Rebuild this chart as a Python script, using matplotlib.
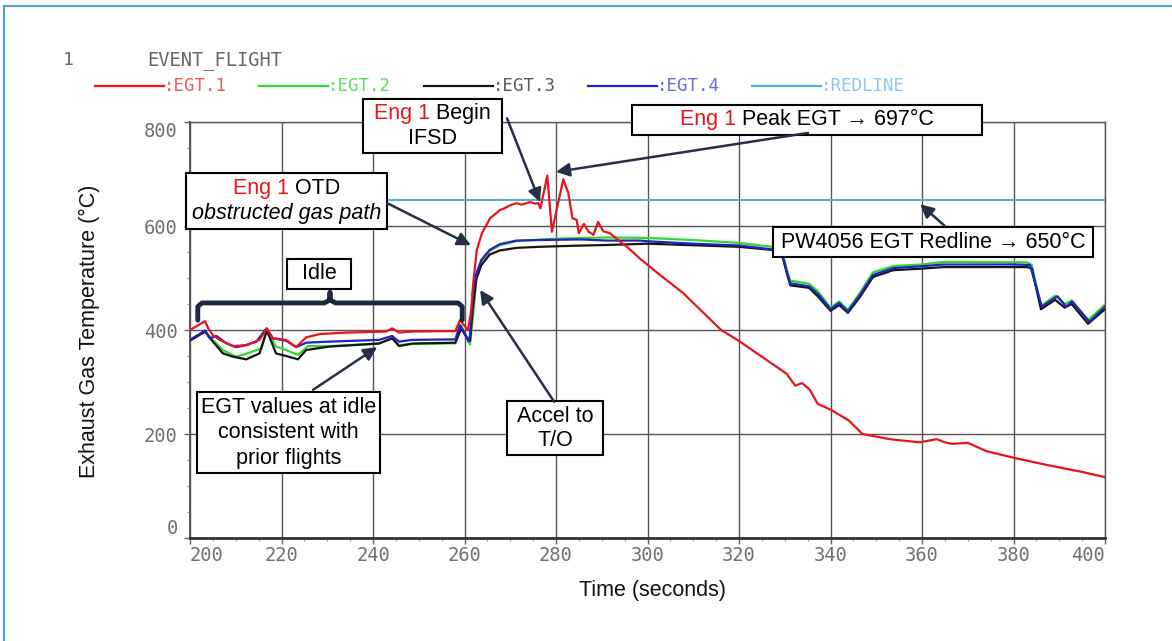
import matplotlib
matplotlib.use('Agg')
import matplotlib.pyplot as plt
from matplotlib.lines import Line2D
from matplotlib.ticker import MultipleLocator
from matplotlib.offsetbox import AnnotationBbox, TextArea, HPacker, VPacker, DrawingArea

plt.rcParams['font.family'] = ['Liberation Sans', 'DejaVu Sans']

# ---- data (time in s, EGT in deg C) ----
t_egt1 = [200, 203.3, 204, 205, 206.5, 209.4, 212.3, 215.2, 216.8, 218.1, 221, 223.2, 225.4, 228.3,
          234, 242.8, 244.2, 245.7, 248.6, 258, 259, 260, 260.8, 261.5, 261.9, 262.7, 263.8, 265.6,
          267.8, 268.5, 270, 271.4, 272.5, 274.3, 275.5, 276.1, 276.6, 278.1, 279.1, 281.6, 282.7,
          283.6, 284.5, 285.0, 286.1, 287.1, 288.2, 289.2, 290.3, 291.8, 293.3, 295.5, 298.4, 302.7,
          307.8, 312, 316.1, 319.8, 325.1, 330.4, 332.3, 333.8, 335.5, 337.2, 340.2, 344, 347, 353,
          359.4, 363.2, 365, 366.6, 370, 374.1, 380.2, 387, 394.5, 400]
egt1 = [400, 417, 403, 390, 381, 369, 371, 381, 403, 384, 381, 367, 386, 392,
        395, 397, 403, 395, 397, 398, 419, 408, 400, 440, 490, 554, 586, 615,
        631, 633, 640, 644, 641, 646, 643, 644, 634, 697, 589, 690, 663,
        615, 612, 586, 604, 589, 583, 608, 590, 586, 575, 560, 537, 506,
        471, 435, 400, 380, 348, 316, 293, 298, 285, 258, 246, 226, 200, 190,
        184, 190, 184, 181, 183, 167, 154, 141, 128, 117]

t_egt2 = [200, 203.3, 205, 207.2, 210.1, 213, 215.6, 216.8, 218.8, 221, 223.6, 225.8, 230.4, 241.3,
          244.2, 245.7, 248.6, 258, 259.3, 260.5, 261.2, 262, 262.6, 263.7, 265.5, 267.7, 271.4,
          276.5, 281, 291.1, 300, 310, 320, 327.2, 329.2, 330.5, 331.2, 335.3, 337.2, 340, 341.9,
          343.8, 346.4, 349.3, 353.7, 360, 364.7, 370, 383, 384, 386, 389.1, 391.2, 392.7, 396.3, 400]
egt2 = [382, 397, 381, 361.5, 348.7, 356.4, 364.7, 400, 368, 361.5, 352, 369, 369, 374,
        384, 371, 373, 374.4, 407.7, 385, 372, 440, 505, 532, 552, 563, 571,
        574, 576, 578, 577, 573, 567.5, 560, 558, 515, 495, 489, 475, 443, 455,
        439, 471, 511, 523, 526, 531, 531, 530, 525, 446, 466, 450, 457, 419, 449]

t_egt3 = [200, 203.3, 205, 207.2, 209.4, 212.3, 215.2, 216.8, 218.8, 221, 223.6, 225.4, 230.4, 241.3,
          244.2, 245.7, 248.6, 258, 259.3, 260.5, 261.2, 261.8, 262.6, 263.7, 265.5, 267.7, 271.4,
          276.5, 283.8, 291.1, 300, 310, 320, 327.2, 329.2, 330.5, 331.2, 335.3, 337.2, 340, 341.9,
          343.8, 346.4, 349.3, 353.7, 360, 364.7, 370, 383, 384, 386, 389.1, 391.2, 392.7, 396.3, 400]
egt3 = [379.5, 397, 377.6, 355, 348.7, 343.6, 355, 398.7, 355, 350, 343.6, 361.5, 368, 374,
        384, 369, 374, 375.6, 403, 385, 379, 440, 498, 525, 545, 553, 558,
        560, 562, 563.5, 566, 563, 560, 554, 552, 508, 486, 481, 465, 437, 448,
        433, 463, 502, 515, 518, 521, 521, 521, 518, 440, 458, 443, 450, 412, 440]

t_egt4 = [200, 203.3, 204.3, 205.8, 208, 210.1, 212.3, 214.5, 216.7, 218.1, 221, 223.2, 225.4, 230.4,
          241.3, 244.2, 245.7, 248.6, 258, 259, 260, 260.9, 261.2, 261.8, 262.6, 263.7, 265.5, 267.7,
          271.4, 276.5, 283.8, 286, 291.1, 298.4, 300, 310, 320, 327.2, 329.2, 330.5, 331.2, 335.3,
          337.2, 340, 341.9, 343.8, 346.4, 349.3, 353.7, 360, 364.7, 370, 380, 383.6, 386.2, 389.6,
          391.5, 392.8, 396.6, 400]
egt4 = [381, 399, 384, 388.5, 374, 367, 371, 377.5, 403, 384, 379.5, 367, 375.6, 377.6,
        381, 388.5, 377.6, 381, 382, 409.6, 395, 378, 390, 470, 509, 535, 554, 565,
        572, 573, 574, 574, 572, 572, 570.6, 566, 562.5, 555, 553, 510, 490, 484,
        470, 440, 452, 435.5, 467, 506, 519, 522.6, 526, 526, 526, 525, 445, 465,
        445, 455, 416, 445]

t_redline = [200, 400]
redline = [650, 650]

series_names = [':EGT.1', ':EGT.2', ':EGT.3', ':EGT.4', ':REDLINE']
line_colors = ['#e8141c', '#2fd82f', '#151515', '#2222c4', '#4aaed6']
label_colors = ['#ec5a5e', '#5ddc5d', '#5a5a5a', '#6a6ad8', '#8cc8ee']

x_ticks = [200, 220, 240, 260, 280, 300, 320, 340, 360, 380, 400]
y_ticks = [0, 200, 400, 600, 800]

W, H = 1172, 641
fig = plt.figure(figsize=(W / 100, H / 100), dpi=100)
ax = fig.add_axes([190 / W, (H - 538) / H, 915 / W, 416 / H])

# curves
ax.plot(t_redline, redline, color=line_colors[4], lw=1.4, zorder=3)
ax.plot(t_egt2, egt2, color=line_colors[1], lw=1.6, zorder=3)
ax.plot(t_egt3, egt3, color=line_colors[2], lw=1.6, zorder=3)
ax.plot(t_egt4, egt4, color=line_colors[3], lw=1.6, zorder=3)
ax.plot(t_egt1, egt1, color=line_colors[0], lw=1.6, zorder=4)

ax.set_xlim(200, 400)
ax.set_ylim(0, 800)
ax.set_xticks(x_ticks)
ax.set_yticks(y_ticks)
ax.xaxis.set_minor_locator(MultipleLocator(5))
ax.yaxis.set_minor_locator(MultipleLocator(50))
ax.grid(True, which='major', color='#555555', lw=1.0, zorder=1)
for s in ax.spines.values():
    s.set_color('#555555')
    s.set_linewidth(1.0)
ax.spines['bottom'].set_linewidth(2.0)
ax.spines['bottom'].set_color('#333333')
ax.spines['left'].set_linewidth(1.4)

ax.tick_params(which='major', direction='out', length=4, width=1, color='#666666',
               labelcolor='#707070', labelsize=13.5)
ax.tick_params(axis='x', which='major', pad=2)
ax.tick_params(axis='y', which='major', pad=5)
ax.tick_params(which='minor', direction='out', length=2.5, width=0.8, color='#999999')
for lab in ax.get_xticklabels() + ax.get_yticklabels():
    lab.set_fontfamily('DejaVu Sans Mono')
xt = ax.xaxis.get_major_ticks()
xt[0].label1.set_horizontalalignment('left')
xt[-1].label1.set_horizontalalignment('right')
yt = ax.yaxis.get_major_ticks()
yt[0].label1.set_verticalalignment('bottom')
yt[-1].label1.set_verticalalignment('top')

ax.set_xlabel('Time (seconds)', fontsize=15.5, color='#111111')
ax.set_ylabel('Exhaust Gas Temperature (°C)', fontsize=15.5, color='#111111')
ax.xaxis.set_label_coords(0.506, -0.101)
ax.yaxis.set_label_coords(-0.098, 0.4976)

# header + legend (plotting-software style)
mono = 'DejaVu Sans Mono'
fig.text(68 / W, 1 - 60 / H, '1', family=mono, fontsize=13, color='#666666', ha='center', va='center')
fig.text(147 / W, 1 - 60 / H, 'EVENT_FLIGHT', family=mono, fontsize=13.5, color='#666666',
         ha='left', va='center')
for i, (name, lc, tc) in enumerate(zip(series_names, line_colors, label_colors)):
    x0 = 95 + 164.3 * i
    fig.add_artist(Line2D([x0 / W, (x0 + 69) / W], [1 - 86 / H, 1 - 86 / H], color=lc, lw=1.6))
    fig.text((x0 + 69) / W, 1 - 86 / H, name, family=mono, fontsize=12.5, color=tc,
             ha='left', va='center')

# figure border (top and left only visible)
border = '#46a6cf'
fig.add_artist(Line2D([4 / W, 1], [1 - 6 / H, 1 - 6 / H], color=border, lw=1.5))
fig.add_artist(Line2D([4 / W, 4 / W], [0, 1 - 6 / H], color=border, lw=1.5))

# annotations
RED = '#e8141c'
arrow_c = '#263044'
FS = 15.5


def callout(rows, xy, hpad=0, sep=2.5):
    packed = []
    for row in rows:
        parts = [TextArea(txt, textprops=dict(color=c, fontsize=FS, fontstyle=st))
                 for txt, c, st in row]
        parts = [DrawingArea(hpad, 0)] + parts + [DrawingArea(hpad, 0)]
        packed.append(HPacker(children=parts, align='baseline', pad=0, sep=0))
    box = VPacker(children=packed, align='center', pad=0, sep=sep)
    ab = AnnotationBbox(box, xy, xycoords='data', frameon=True, pad=0.3,
                        bboxprops=dict(edgecolor='black', lw=1.5, boxstyle='square'),
                        annotation_clip=False, zorder=6)
    ax.add_artist(ab)


def arrow(tail, tip):
    ax.annotate('', xy=tip, xytext=tail, xycoords='data', textcoords='data',
                annotation_clip=False, zorder=7,
                arrowprops=dict(arrowstyle='-|>', color=arrow_c, lw=1.8,
                                mutation_scale=20, shrinkA=0, shrinkB=0))


arrow((269.3, 807), (276.5, 646))
callout([[('Eng 1', RED, 'normal'), (' Begin', 'black', 'normal')],
         [('IFSD', 'black', 'normal')]], (253.0, 792), hpad=5.2)

arrow((335.1, 779), (280.0, 704))
callout([[('Eng 1', RED, 'normal'), (' Peak EGT \u2192 697°C', 'black', 'normal')]],
        (334.9, 804), hpad=31.5)

arrow((243.1, 644), (261.4, 563))
callout([[('Eng 1', RED, 'normal'), (' OTD', 'black', 'normal')],
         [('obstructed gas path', 'black', 'italic')]], (221.1, 648), hpad=1.3, sep=3.5)

arrow((226.9, 285), (240.9, 367))
callout([[('EGT values at idle', 'black', 'normal')],
         [('consistent with', 'black', 'normal')],
         [('prior flights', 'black', 'normal')]], (221.5, 202), sep=3.5)

arrow((279.6, 262), (263.4, 477))
callout([[('Accel to', 'black', 'normal')], [('T/O', 'black', 'normal')]], (279.8, 211), hpad=4)

arrow((365.0, 600), (359.6, 642))
callout([[('PW4056 EGT Redline \u2192 650°C', 'black', 'normal')]], (362.4, 569), hpad=2.7)

# "Idle" bracket
callout([[('Idle', 'black', 'normal')]], (228.2, 508), hpad=7.8)
bx = [201.7, 201.7, 202.6, 229.4, 230.6, 230.6, 230.6, 231.8, 258.6, 259.5, 259.5]
by = [419, 445, 452, 452, 458, 472, 458, 452, 452, 445, 419]
ax.plot(bx, by, color='#1d2840', lw=3.5, solid_joinstyle='round', solid_capstyle='round',
        zorder=6, clip_on=False)

fig.savefig('out.png', dpi=100)
